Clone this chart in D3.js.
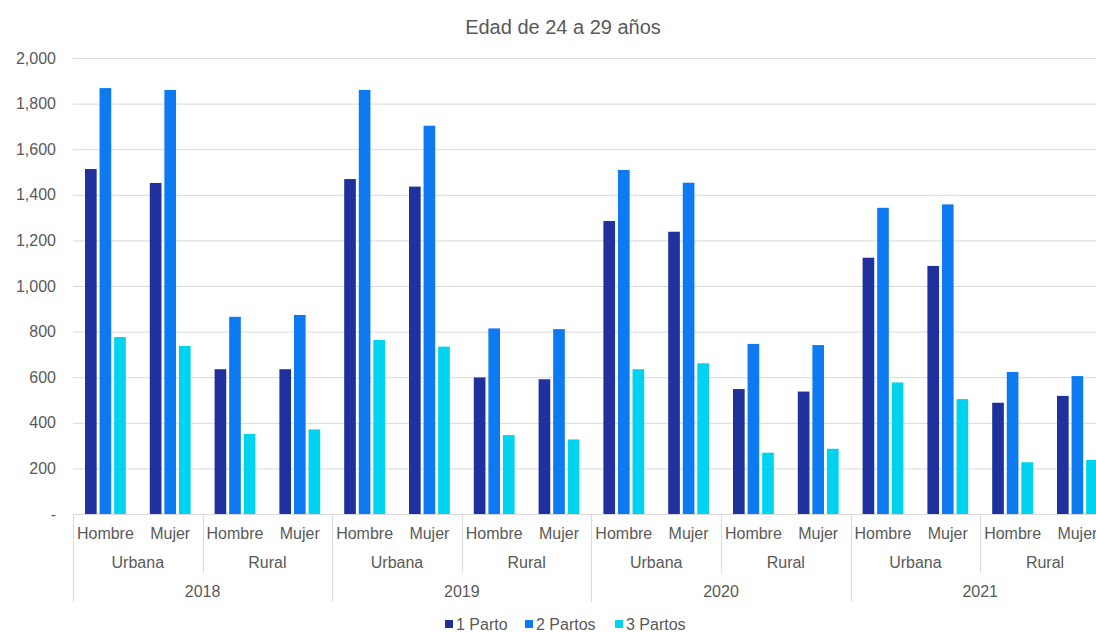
<!DOCTYPE html>
<html>
<head>
<meta charset="utf-8">
<script src="https://cdn.jsdelivr.net/npm/d3@7"></script>
<style>
  body { margin: 0; background: #fff; }
  svg text { font-family: "Liberation Sans", Arial, sans-serif; fill: #595959; }
</style>
</head>
<body>
<svg width="1096" height="632"></svg>
<script>
// Data
var years = ["2018", "2019", "2020", "2021"];
var areas = ["Urbana", "Rural"];
var sexes = ["Hombre", "Mujer"];
var seriesNames = ["1 Parto", "2 Partos", "3 Partos"];
var seriesColors = ["#1f319c", "#0e7af2", "#00d3f0"];
var yTicks = [0, 200, 400, 600, 800, 1000, 1200, 1400, 1600, 1800, 2000];

// one value per category: year > area > sex
var parto1 = [1513, 1452, 635, 635,  1469, 1436, 599, 591,  1285, 1238, 548, 537,  1124, 1088, 488, 518];
var parto2 = [1868, 1860, 865, 873,  1860, 1703, 814, 811,  1509, 1453, 746, 741,  1343, 1358, 623, 605];
var parto3 = [776, 737, 351, 371,    763, 734, 346, 327,    635, 661, 269, 286,    577, 504, 227, 237];
var seriesValues = [parto1, parto2, parto3];

// Canvas
var svg = d3.select("svg"),
    margin = {top: 58, left: 73, bottom: 118},
    catWidth = 64.8,
    nCats = years.length * areas.length * sexes.length,
    plotRight = margin.left + nCats * catWidth,
    y0 = 632 - margin.bottom,
    labelSize = "16px";

// categories as flat list
var cats = [];
years.forEach(function(yr) {
  areas.forEach(function(ar) {
    sexes.forEach(function(sx) { cats.push({year: yr, area: ar, sex: sx}); });
  });
});

var x0 = d3.scaleBand().domain(d3.range(nCats)).range([margin.left, plotRight]).padding(0);
var x1 = d3.scaleBand().domain(d3.range(seriesNames.length)).range([12, catWidth - 12]).paddingInner(0.2);
var y = d3.scaleLinear().domain([0, 2000]).range([y0, margin.top]);

// title
svg.append("text")
    .attr("x", 563).attr("y", 27)
    .attr("text-anchor", "middle").attr("dominant-baseline", "central")
    .style("font-size", "20px")
    .text("Edad de 24 a 29 años");

// gridlines
svg.append("g").selectAll("line")
    .data(yTicks.filter(function(d) { return d > 0; }))
    .enter().append("line")
    .attr("x1", margin.left).attr("x2", 1096)
    .attr("y1", function(d) { return y(d) + 0.5; })
    .attr("y2", function(d) { return y(d) + 0.5; })
    .attr("stroke", "#d9d9d9");

// y axis labels
var yAxis = svg.append("g")
    .attr("transform", "translate(" + margin.left + ",0)")
    .call(d3.axisLeft(y).tickValues(yTicks).tickSize(0).tickPadding(17)
      .tickFormat(function(d) { return d === 0 ? "-" : d3.format(",")(d); }));
yAxis.select(".domain").remove();
yAxis.selectAll("text").style("font-size", labelSize).attr("fill", "#595959");

// bars
var catG = svg.append("g").selectAll("g")
    .data(cats)
    .enter().append("g")
    .attr("transform", function(d, i) { return "translate(" + x0(i) + ",0)"; });

catG.selectAll("rect")
    .data(function(d, i) { return seriesValues.map(function(s, k) { return {k: k, v: s[i]}; }); })
    .enter().append("rect")
    .attr("x", function(d) { return x1(d.k); })
    .attr("y", function(d) { return y(d.v); })
    .attr("width", x1.bandwidth())
    .attr("height", function(d) { return y0 - y(d.v); })
    .attr("fill", function(d) { return seriesColors[d.k]; });

// x axis line
svg.append("line")
    .attr("x1", margin.left).attr("x2", 1096)
    .attr("y1", y0 + 0.5).attr("y2", y0 + 0.5)
    .attr("stroke", "#d9d9d9");

// multi-level category axis
var axisG = svg.append("g");
axisG.selectAll("text.sex")
    .data(cats)
    .enter().append("text")
    .attr("class", "sex")
    .attr("x", function(d, i) { return x0(i) + catWidth / 2; })
    .attr("y", 533)
    .attr("text-anchor", "middle").attr("dominant-baseline", "central")
    .style("font-size", labelSize)
    .text(function(d) { return d.sex; });

var areaW = catWidth * sexes.length, yearW = areaW * areas.length;
var areaCells = [];
years.forEach(function(yr, yi) {
  areas.forEach(function(ar, ai) { areaCells.push({name: ar, i: yi * areas.length + ai}); });
});

axisG.selectAll("text.area")
    .data(areaCells)
    .enter().append("text")
    .attr("class", "area")
    .attr("x", function(d) { return margin.left + d.i * areaW + areaW / 2; })
    .attr("y", 562)
    .attr("text-anchor", "middle").attr("dominant-baseline", "central")
    .style("font-size", labelSize)
    .text(function(d) { return d.name; });

axisG.selectAll("text.year")
    .data(years)
    .enter().append("text")
    .attr("class", "year")
    .attr("x", function(d, i) { return margin.left + i * yearW + yearW / 2; })
    .attr("y", 591)
    .attr("text-anchor", "middle").attr("dominant-baseline", "central")
    .style("font-size", labelSize)
    .text(function(d) { return d; });

// separators
axisG.selectAll("line.area")
    .data(areaCells.filter(function(d) { return d.i % areas.length !== 0; }))
    .enter().append("line")
    .attr("x1", function(d) { return Math.round(margin.left + d.i * areaW) + 0.5; })
    .attr("x2", function(d) { return Math.round(margin.left + d.i * areaW) + 0.5; })
    .attr("y1", y0).attr("y2", 573)
    .attr("stroke", "#d9d9d9");

axisG.selectAll("line.year")
    .data(d3.range(years.length + 1))
    .enter().append("line")
    .attr("x1", function(i) { return Math.round(margin.left + i * yearW) + 0.5; })
    .attr("x2", function(i) { return Math.round(margin.left + i * yearW) + 0.5; })
    .attr("y1", y0).attr("y2", 602)
    .attr("stroke", "#d9d9d9");

// legend
var legendX = [445, 525, 615];
var legend = svg.append("g").selectAll("g")
    .data(seriesNames)
    .enter().append("g")
    .attr("transform", function(d, i) { return "translate(" + legendX[i] + ",620)"; });
legend.append("rect")
    .attr("width", 8).attr("height", 8)
    .attr("fill", function(d, i) { return seriesColors[i]; });
legend.append("text")
    .attr("x", 11).attr("y", 4)
    .attr("dominant-baseline", "central")
    .style("font-size", labelSize)
    .text(function(d) { return d; });
</script>
</body>
</html>
